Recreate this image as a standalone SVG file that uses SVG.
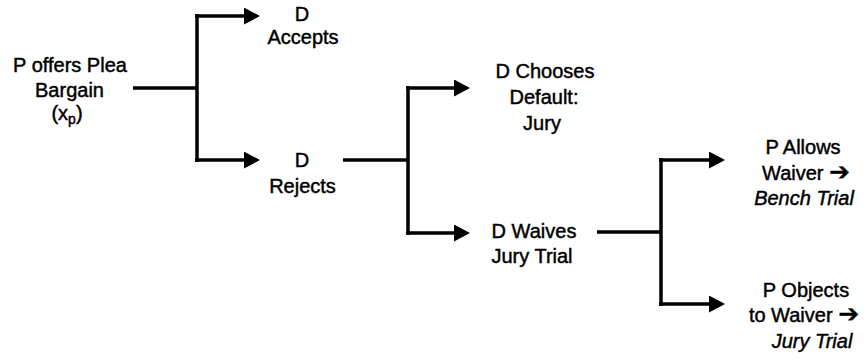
<svg xmlns="http://www.w3.org/2000/svg" width="867" height="364" viewBox="0 0 867 364">
<defs>
<marker id="ah" markerUnits="userSpaceOnUse" markerWidth="16" markerHeight="18" refX="2" refY="8.5" orient="auto">
<path d="M0,0 L16,8.5 L0,17 z" fill="#000"/>
</marker>
<style>
.t{font-family:"Liberation Sans",Arial,Helvetica,sans-serif;font-size:20px;fill:#000;stroke:#000;stroke-width:0.45;text-anchor:middle}
.i{font-style:italic}
.ar{font-family:"DejaVu Sans",sans-serif;font-size:25px;font-style:normal;stroke-width:0.3}
.c{fill:none;stroke:#000;stroke-width:3.5}
.a{fill:none;stroke:#000;stroke-width:3.5;marker-end:url(#ah)}
</style>
</defs>
<rect width="867" height="364" fill="#fff"/>
<g id="connectors">
<path class="c" d="M133 88 H197 M197 14 V162"/>
<path class="a" d="M195.25 16 H246"/>
<path class="a" d="M195.25 160 H246"/>
<path class="c" d="M343 160 H408 M408 86 V235"/>
<path class="a" d="M406.25 88 H456"/>
<path class="a" d="M406.25 233 H456"/>
<path class="c" d="M597 232 H661 M661 158 V306"/>
<path class="a" d="M659.25 160 H711"/>
<path class="a" d="M659.25 304 H711"/>
</g>
<g id="root">
<text class="t" x="70" y="72">P offers Plea</text>
<text class="t" x="69.5" y="96.5">Bargain</text>
<text class="t" x="67" y="120">(x<tspan font-size="14" dy="4">p</tspan><tspan dy="-4">)</tspan></text>
</g>
<g id="accepts">
<text class="t" x="302" y="21">D</text>
<text class="t" x="303" y="44">Accepts</text>
</g>
<g id="rejects">
<text class="t" x="302" y="167">D</text>
<text class="t" x="302.5" y="193">Rejects</text>
</g>
<g id="default-jury">
<text class="t" x="545" y="78">D Chooses</text>
<text class="t" x="544" y="104">Default:</text>
<text class="t" x="542" y="130">Jury</text>
</g>
<g id="waives">
<text class="t" x="534" y="238">D Waives</text>
<text class="t" x="532" y="263">Jury Trial</text>
</g>
<g id="allows">
<text class="t" x="803" y="154">P Allows</text>
<text class="t" x="806" y="180">Waiver <tspan class="ar">➔</tspan></text>
<text class="t i" x="804" y="205">Bench Trial</text>
</g>
<g id="objects">
<text class="t" x="806" y="297">P Objects</text>
<text class="t" x="804" y="322">to Waiver <tspan class="ar">➔</tspan></text>
<text class="t i" x="812" y="348">Jury Trial</text>
</g>
</svg>
